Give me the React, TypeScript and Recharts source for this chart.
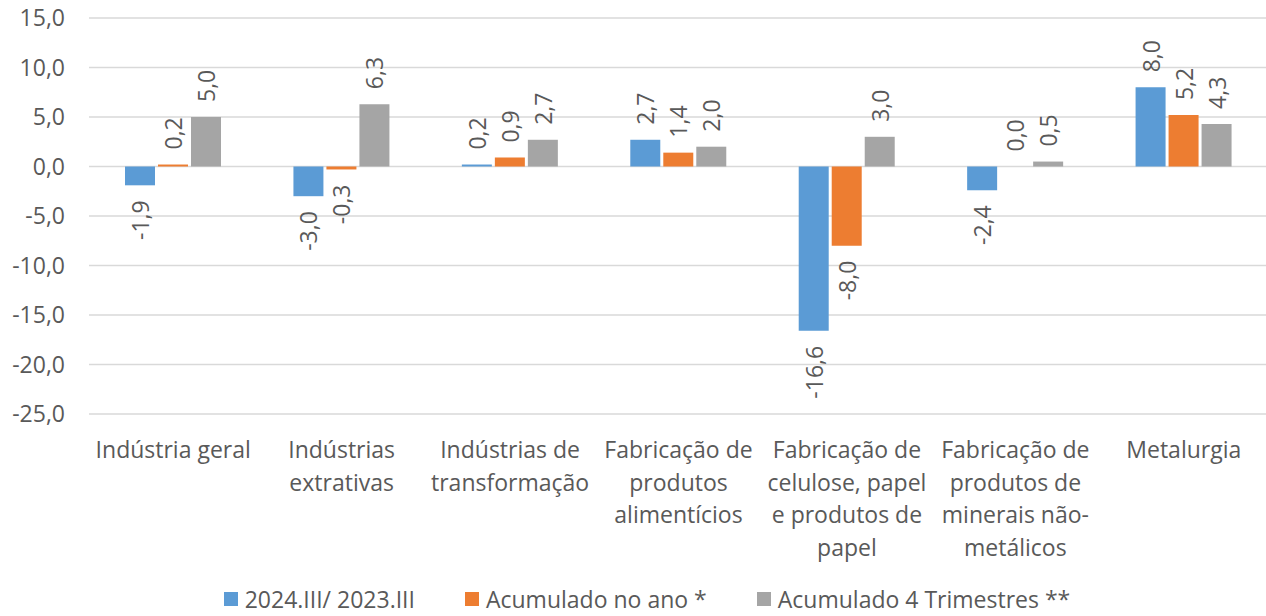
import { BarChart, Bar, XAxis, YAxis, CartesianGrid, Legend, LabelList } from "recharts";

const categoryLines: string[][] = [
  ["Indústria geral"],
  ["Indústrias", "extrativas"],
  ["Indústrias de", "transformação"],
  ["Fabricação de", "produtos", "alimentícios"],
  ["Fabricação de", "celulose, papel", "e produtos de", "papel"],
  ["Fabricação de", "produtos de", "minerais não-", "metálicos"],
  ["Metalurgia"],
];
const categories = categoryLines.map((l) => l.join(" "));

const trimestre = [-1.9, -3.0, 0.2, 2.7, -16.6, -2.4, 8.0];
const acumuladoAno = [0.2, -0.3, 0.9, 1.4, -8.0, 0.0, 5.2];
const acumulado4T = [5.0, 6.3, 2.7, 2.0, 3.0, 0.5, 4.3];

const seriesNames = ["2024.III/ 2023.III", "Acumulado no ano *", "Acumulado 4 Trimestres **"];
const COLORS = ["#5B9BD5", "#ED7D31", "#A5A5A5"];
const yTicks = [-25, -20, -15, -10, -5, 0, 5, 10, 15];

const data = categories.map((name, i) => ({
  name,
  s1: trimestre[i],
  s2: acumuladoAno[i],
  s3: acumulado4T[i],
}));

const FONT = "'Open Sans', sans-serif";
const TEXT = "#595959";
const FS = 23;

const fmt = (v: number) => Number(v).toFixed(1).replace(".", ",");

const CategoryTick = (props: any) => {
  const { x, y, payload } = props;
  const lines = categoryLines[payload.index] || [payload.value];
  return (
    <g transform={`translate(${x},${y})`}>
      {lines.map((line, i) => (
        <text
          key={i}
          x={0}
          y={35 + i * 32.5}
          textAnchor="middle"
          dominantBaseline="central"
          fill={TEXT}
          fontSize={FS}
          fontFamily={FONT}
        >
          {line}
        </text>
      ))}
    </g>
  );
};

// labels sit outside the bar end, rotated like the Excel original
const renderLabel = (props: any) => {
  const { x, y, width, height, value } = props;
  const v = Number(value);
  const cx = Number(x) + Number(width) / 2;
  const y1 = Number(y);
  const y2 = Number(y) + Number(height);
  const top = Math.min(y1, y2);
  const bottom = Math.max(y1, y2);
  const positive = v >= 0;
  const ay = positive ? top - 15 : bottom + 15;
  return (
    <text
      x={cx}
      y={ay}
      transform={`rotate(-90, ${cx}, ${ay})`}
      textAnchor={positive ? "start" : "end"}
      dominantBaseline="central"
      fill={TEXT}
      fontSize={FS}
      fontFamily={FONT}
    >
      {fmt(v)}
    </text>
  );
};

const renderLegend = () => (
  <div
    style={{
      display: "flex",
      justifyContent: "center",
      gap: 50,
      fontFamily: FONT,
      fontSize: FS,
      lineHeight: "24px",
      color: TEXT,
      paddingTop: 19,
      paddingLeft: 26,
    }}
  >
    {seriesNames.map((n, i) => (
      <div key={n} style={{ display: "flex", alignItems: "center" }}>
        <span style={{ width: 14, height: 14, background: COLORS[i], marginRight: 7, display: "inline-block" }} />
        <span>{n}</span>
      </div>
    ))}
  </div>
);

export default function App() {
  return (
    <div style={{ position: "absolute", left: 0, top: 0, width: 1266, height: 616, overflow: "hidden", background: "#fff" }}>
      <BarChart
        width={1270}
        height={616}
        data={data}
        margin={{ top: 18, right: 2, bottom: 0, left: 0 }}
        barSize={30}
        barGap={3}
      >
        <CartesianGrid vertical={false} stroke="#D9D9D9" strokeWidth={1.5} />
        <XAxis
          dataKey="name"
          axisLine={false}
          tickLine={false}
          tickSize={0}
          tickMargin={0}
          interval={0}
          height={154}
          tick={<CategoryTick />}
        />
        <YAxis
          domain={[-25, 15]}
          ticks={yTicks}
          axisLine={false}
          tickLine={false}
          tickSize={0}
          tickMargin={24}
          width={89}
          tickFormatter={fmt}
          tick={{ fill: TEXT, fontSize: FS, fontFamily: FONT }}
        />
        <Legend verticalAlign="bottom" height={48} content={renderLegend} />
        <Bar dataKey="s1" name={seriesNames[0]} fill={COLORS[0]} minPointSize={0.01} isAnimationActive={false}>
          <LabelList dataKey="s1" content={renderLabel} />
        </Bar>
        <Bar dataKey="s2" name={seriesNames[1]} fill={COLORS[1]} minPointSize={0.01} isAnimationActive={false}>
          <LabelList dataKey="s2" content={renderLabel} />
        </Bar>
        <Bar dataKey="s3" name={seriesNames[2]} fill={COLORS[2]} minPointSize={0.01} isAnimationActive={false}>
          <LabelList dataKey="s3" content={renderLabel} />
        </Bar>
      </BarChart>
    </div>
  );
}
